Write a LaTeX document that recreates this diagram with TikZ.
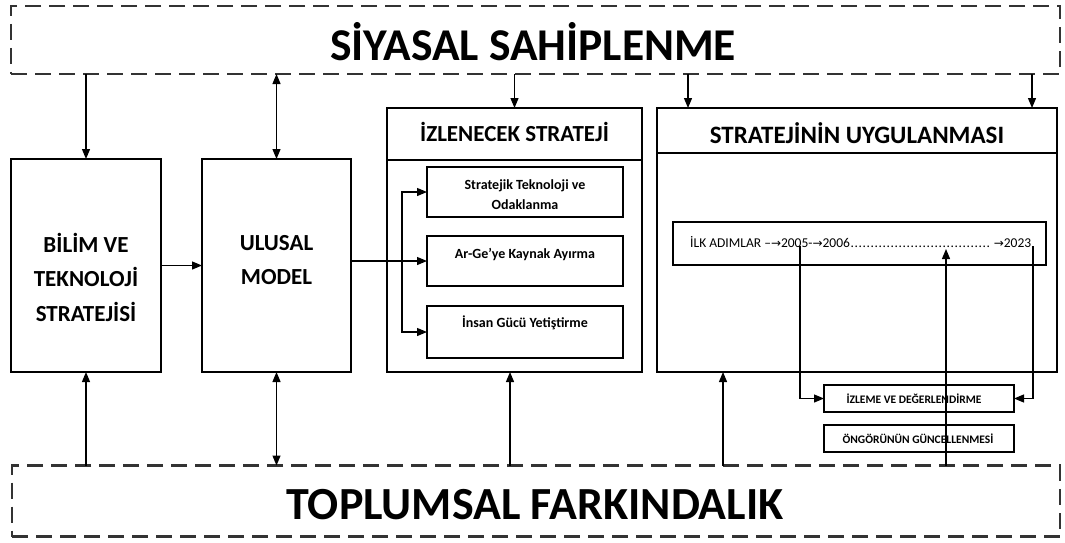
\documentclass[tikz,border=0pt]{standalone}
\usepackage{fontspec}
\setmainfont{Carlito}
\newfontfamily\dejavu{DejaVu Sans}
\usetikzlibrary{arrows.meta}
\newcommand{\rarr}{{\dejavu\fontsize{12}{14}\selectfont →}}
\begin{document}
\begin{tikzpicture}[x=1pt,y=-1pt,
  box/.style={draw,line width=1.4pt,inner sep=0pt,outer sep=0pt,align=center,font=\bfseries},
  dbox/.style={draw,line width=2.4pt,dash pattern=on 16pt off 8pt,inner sep=0pt,outer sep=0pt,draw=black!80},
  arr/.style={line width=1.2pt,-{Triangle[length=10pt,width=8pt]}},
  darr/.style={line width=1.2pt,{Triangle[length=10pt,width=8pt]}-{Triangle[length=10pt,width=8pt]}},
  lbl/.style={inner sep=0pt,align=center,font=\bfseries}]
\useasboundingbox (0,0) rectangle (1065,543);
\fill[white] (0,0) rectangle (1065,543);
% dashed boxes
\node[dbox,minimum width=1049pt,minimum height=68pt] (top) at (535.5,40) {};
\node[lbl,font=\fontsize{45.5}{52}\selectfont\bfseries] (toptxt) at (533,42) {SİYASAL SAHİPLENME};
\node[dbox,minimum width=1048pt,minimum height=71pt] (bot) at (536,501) {};
\node[lbl,font=\fontsize{46}{52}\selectfont\bfseries] (bottxt) at (535,505) {TOPLUMSAL FARKINDALIK};
% main boxes
\node[box,minimum width=150pt,minimum height=213pt] (b1) at (86,265.5) {};
\node[lbl,font=\fontsize{23}{34.5}\selectfont\bfseries] (b1t) at (86,277) {BİLİM VE\\TEKNOLOJİ\\STRATEJİSİ};
\node[box,minimum width=149pt,minimum height=213pt] (b2) at (276.5,265.5) {};
\node[lbl,font=\fontsize{23}{34.5}\selectfont\bfseries] (b2t) at (276.5,260) {ULUSAL\\MODEL};
\node[box,minimum width=255pt,minimum height=264pt] (b3) at (514.5,240) {};
\draw[line width=1.4pt] (b3.west |- 0,160) coordinate (b3l) -- (b3.east |- 0,160) coordinate (b3r);
\node[lbl,font=\fontsize{23}{25}\selectfont\bfseries] (b3h) at (514.5,132) {İZLENECEK STRATEJİ};
\node[box,minimum width=400pt,minimum height=264pt] (b4) at (857,240) {};
\draw[line width=1.4pt] (b4.west |- 0,153) coordinate (b4l) -- (b4.east |- 0,153) coordinate (b4r);
\node[lbl,font=\fontsize{25}{27}\selectfont\bfseries] (b4h) at (857,133) {STRATEJİNİN UYGULANMASI};
% inner boxes
\node[box,minimum width=196pt,minimum height=50pt] (s1) at (525,192) {};
\node[lbl,font=\fontsize{14}{20}\selectfont\bfseries] (s1t) at (525,195) {Stratejik Teknoloji ve\\Odaklanma};
\node[box,minimum width=196pt,minimum height=50pt] (s2) at (525,261) {};
\node[lbl,font=\fontsize{14}{16}\selectfont\bfseries] (s2t) at (525,255) {Ar-Ge'ye Kaynak Ayırma};
\node[box,minimum width=196pt,minimum height=52pt] (s3) at (525,332) {};
\node[lbl,font=\fontsize{14}{16}\selectfont\bfseries] (s3t) at (525,323) {İnsan Gücü Yetiştirme};
% timeline
\node[box,minimum width=373pt,minimum height=43pt,line width=1.2pt] (tl) at (859.5,243.5) {};
\node[lbl,anchor=west,font=\fontsize{13.5}{15}\selectfont] (tlt) at (690,242) {\hbox to 341pt{İLK ADIMLAR --\rarr 2005-\rarr 2006\leaders\hbox{.\kern0.6pt}\hfill\rarr 2023}};
\node[box,minimum width=190pt,minimum height=27pt,line width=1.2pt] (iz) at (919,398.5) {};
\node[lbl,font=\fontsize{11.5}{13}\selectfont\bfseries] (izt) at (914,399) {İZLEME VE DEĞERLENDİRME};
\node[box,minimum width=190pt,minimum height=27pt,line width=1.2pt] (og) at (919,438.5) {};
\node[lbl,font=\fontsize{11.5}{13}\selectfont\bfseries] (ogt) at (918,439) {ÖNGÖRÜNÜN GÜNCELLENMESİ};
% coordinates
\coordinate (x688) at (688,0);
\coordinate (x1032) at (1032,0);
\coordinate (x510) at (510,0);
\coordinate (x723) at (723,0);
\coordinate (br) at (402,0);
\coordinate (c2005) at (800,246);
\coordinate (c2023) at (1033,246);
\coordinate (cup) at (946,249);
% arrows top
\draw[arr] (top.south -| b1.north) -- (b1.north);
\draw[darr] (top.south -| b2.north) -- (b2.north);
\draw[arr] (top.south -| b3.north) -- (b3.north);
\draw[arr] (top.south -| x688) -- (b4.north -| x688);
\draw[arr] (top.south -| x1032) -- (b4.north -| x1032);
% arrows bottom
\draw[arr] (bot.north -| b1.south) -- (b1.south);
\draw[darr] (bot.north -| b2.south) -- (b2.south);
\draw[arr] (bot.north -| x510) -- (b3.south -| x510);
\draw[arr] (bot.north -| x723) -- (b4.south -| x723);
% middle
\draw[arr] (b1) -- (b2);
\draw[arr] (b2.east |- s2.west) -- (s2.west);
\draw[arr] (br |- s2.west) |- (s1.west);
\draw[arr] (br |- s2.west) |- (s3.west);
% timeline links
\draw[arr] (c2005) |- (iz.west);
\draw[arr] (c2023) |- (iz.east);
\draw[arr] (bot.north -| cup) -- (cup);
\end{tikzpicture}
\end{document}
